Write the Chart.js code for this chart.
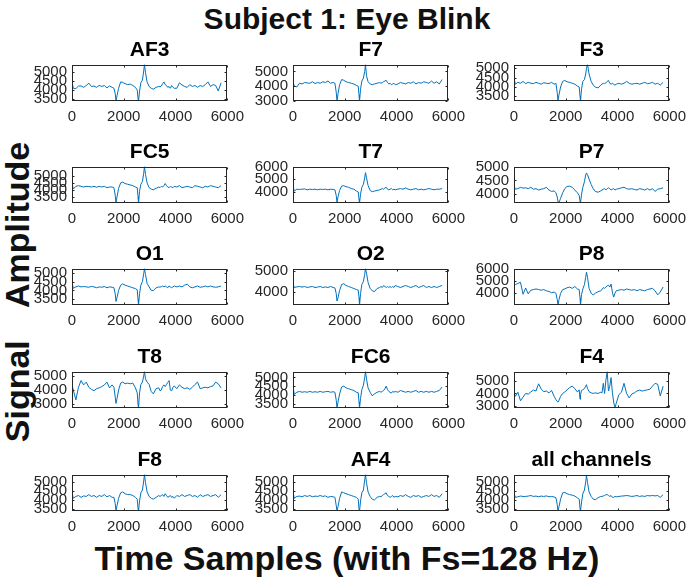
<!DOCTYPE html>
<html>
<head>
<meta charset="utf-8">
<script src="https://cdn.jsdelivr.net/npm/chart.js@4.4.0/dist/chart.umd.min.js"></script>
<style>
	body { margin: 0; background: #fff; }
	#fig { position: relative; width: 694px; height: 585px; overflow: hidden; font-family: "Liberation Sans", Arial, sans-serif; }
	canvas.sub { position: absolute; }
	.lbl { position: absolute; font-weight: bold; white-space: nowrap; color: #111; transform: translate(-50%, -50%); }
	#ttl { left: 347px; top: 19px; font-size: 30px; }
	#xl { left: 347px; top: 558px; font-size: 34px; }
	#yl { left: 17px; top: 292px; font-size: 34px; word-spacing: 24px; transform: translate(-50%, -50%) rotate(-90deg); }
</style>
</head>
<body>
<div id="fig">
	<div class="lbl" id="ttl">Subject 1: Eye Blink</div>
	<div class="lbl" id="xl">Time Samples (with Fs=128 Hz)</div>
	<div class="lbl" id="yl">Signal Amplitude</div>
</div>
<script>
// sample positions (shared by every channel)
const t = [0, 50, 150, 250, 350, 450, 550, 650, 750, 850,
	950, 1050, 1150, 1250, 1350, 1450, 1550, 1620, 1670, 1700,
	1740, 1800, 1880, 1960, 2050, 2150, 2250, 2350, 2450, 2520,
	2550, 2570, 2610, 2660, 2720, 2770, 2800, 2840, 2900, 2980,
	3060, 3140, 3250, 3350, 3400, 3450, 3500, 3550, 3600, 3650,
	3700, 3750, 3800, 3850, 3900, 3950, 4050, 4150, 4250, 4350,
	4450, 4550, 4650, 4750, 4850, 4950, 5050, 5150, 5250, 5350,
	5450, 5550, 5650, 5760];

const channelNames = ['AF3', 'F7', 'F3', 'FC5', 'T7', 'P7', 'O1', 'O2', 'P8', 'T8', 'FC6', 'F4', 'F8', 'AF4', 'all channels'];

const af3 = [4450, 4100, 4080, 4220, 4230, 4150, 4250, 4380, 4200, 4220,
	4150, 4260, 4200, 4250, 4120, 4230, 4150, 4100, 3800, 3400,
	3700, 4100, 4450, 4420, 4350, 4300, 4330, 4250, 4150, 4000,
	3550, 3400, 3950, 4400, 4550, 5050, 5400, 4950, 4450, 4200,
	4100, 4050, 4150, 4200, 4180, 4220, 4350, 4450, 4300, 4250,
	4150, 4200, 4100, 4250, 4150, 4100, 4100, 4400, 4280, 4200,
	4150, 4300, 4200, 4250, 4150, 4250, 4200, 4300, 4450, 4200,
	4300, 4250, 3950, 4400];
const f7 = [4300, 4000, 3950, 4200, 4150, 4250, 4220, 4200, 4300, 4180,
	4250, 4200, 4300, 4250, 4350, 4200, 4250, 4200, 3600, 3000,
	3500, 4100, 4450, 4400, 4300, 4250, 4200, 4150, 4050, 4000,
	3400, 3000, 3800, 4350, 4550, 5000, 5460, 4700, 4300, 4150,
	4100, 4150, 4200, 4250, 4200, 4250, 4300, 4350, 4400, 4250,
	4150, 4200, 4100, 4150, 4200, 4100, 4150, 4250, 4200, 4150,
	4250, 4200, 4300, 4150, 4250, 4200, 4300, 4250, 4200, 4350,
	4200, 4300, 4150, 4450];
const f3 = [4500, 4150, 4250, 4200, 4300, 4180, 4250, 4200, 4180, 4250,
	4200, 4150, 4230, 4200, 4180, 4250, 4150, 4200, 3700, 3250,
	3600, 4000, 4300, 4350, 4280, 4250, 4200, 4150, 4050, 4000,
	3500, 3250, 3900, 4300, 4400, 4700, 5000, 5200, 4700, 4300,
	4100, 4000, 3950, 4100, 4150, 4200, 4180, 4220, 4300, 4350,
	4200, 4150, 4200, 4150, 4100, 4150, 4200, 4150, 4200, 4300,
	4200, 4150, 4180, 4200, 4150, 4200, 4250, 4180, 4200, 4250,
	4150, 4200, 4100, 4250];
const fc5 = [4500, 4050, 4250, 4300, 4250, 4200, 4250, 4230, 4200, 4250,
	4180, 4250, 4200, 4250, 4150, 4200, 4200, 4150, 3600, 3040,
	3500, 4100, 4500, 4550, 4450, 4400, 4350, 4300, 4200, 4150,
	3500, 3040, 3900, 4400, 4600, 5200, 5680, 5100, 4500, 4150,
	4050, 4000, 4100, 4200, 4150, 4250, 4200, 4300, 4450, 4300,
	4200, 4150, 4250, 4200, 4150, 4250, 4200, 4300, 4150, 4200,
	4250, 4200, 4150, 4300, 4250, 4200, 4150, 4250, 4200, 4300,
	4250, 4200, 4150, 4300];
const t7 = [4480, 4050, 4200, 4180, 4200, 4220, 4150, 4200, 4180, 4200,
	4150, 4200, 4180, 4200, 4150, 4200, 4180, 4150, 3700, 3150,
	3600, 4100, 4450, 4480, 4400, 4350, 4250, 4200, 4050, 3980,
	3400, 3100, 3800, 4350, 4600, 5100, 5520, 5100, 4500, 4100,
	4000, 4050, 4100, 4150, 4200, 4250, 4200, 4300, 4350, 4200,
	4150, 4200, 4250, 4150, 4200, 4150, 4200, 4250, 4200, 4300,
	4200, 4150, 4200, 4250, 4150, 4200, 4150, 4200, 4250, 4200,
	4150, 4200, 4200, 4250];
const p7 = [4320, 4180, 4200, 4250, 4220, 4230, 4200, 4250, 4180, 4200,
	4150, 4180, 4200, 4250, 4150, 4100, 4120, 4050, 3900, 3720,
	3700, 3850, 4050, 4200, 4280, 4290, 4250, 4150, 4050, 3950,
	3750, 3680, 4000, 4250, 4450, 4700, 4770, 4700, 4550, 4350,
	4200, 4100, 4070, 4120, 4150, 4180, 4200, 4150, 4200, 4230,
	4200, 4150, 4180, 4200, 4150, 4180, 4200, 4230, 4250, 4200,
	4180, 4200, 4170, 4150, 4200, 4180, 4150, 4200, 4150, 4200,
	4100, 4180, 4200, 4230];
const o1 = [4450, 4120, 4200, 4250, 4200, 4220, 4200, 4180, 4230, 4200,
	4150, 4200, 4180, 4220, 4150, 4200, 4180, 4150, 3800, 3370,
	3600, 4000, 4300, 4370, 4300, 4250, 4200, 4150, 4100, 4035,
	3500, 3170, 3800, 4300, 4500, 4950, 5240, 4900, 4400, 4200,
	4000, 3990, 4150, 4200, 4180, 4220, 4250, 4200, 4250, 4200,
	4150, 4250, 4200, 4150, 4200, 4250, 4200, 4250, 4200, 4300,
	4350, 4200, 4150, 4200, 4250, 4180, 4200, 4250, 4200, 4250,
	4200, 4180, 4200, 4250];
const o2 = [4415, 4200, 4230, 4250, 4220, 4250, 4200, 4230, 4250, 4200,
	4220, 4250, 4200, 4230, 4200, 4250, 4200, 4180, 3900, 3535,
	3700, 4050, 4350, 4385, 4300, 4250, 4200, 4150, 4100, 4075,
	3700, 3340, 3900, 4350, 4500, 4850, 5130, 4900, 4450, 4150,
	4050, 3990, 4150, 4200, 4250, 4200, 4300, 4250, 4200, 4250,
	4200, 4250, 4200, 4250, 4200, 4300, 4250, 4200, 4250, 4300,
	4250, 4200, 4250, 4300, 4200, 4250, 4300, 4200, 4250, 4200,
	4250, 4200, 4250, 4300];
const p8 = [4640, 4700, 4800, 4890, 3920, 4430, 3950, 4250, 4300, 4350,
	4300, 4250, 4300, 4200, 4150, 4050, 4100, 4000, 3500, 3050,
	3500, 4000, 4300, 4350, 4450, 4500, 4400, 4550, 4350, 4300,
	3600, 3050, 3900, 4350, 4700, 5300, 5715, 5300, 4400, 4000,
	3870, 4000, 4130, 4200, 4300, 4460, 4400, 4500, 4600, 4660,
	4500, 4750, 4100, 3690, 4000, 4200, 4250, 4300, 4250, 4350,
	4300, 4250, 4300, 4200, 4300, 4250, 4200, 4300, 4350, 4400,
	4200, 3870, 4100, 4510];
const t8 = [4370, 4000, 3300, 4200, 4680, 4370, 4570, 4200, 4050, 3955,
	4100, 4160, 4250, 4370, 4570, 4150, 4370, 4200, 3500, 3045,
	3400, 4000, 4500, 4570, 4450, 4500, 4450, 4500, 4160, 3800,
	3000, 2720, 3800, 4400, 4570, 5000, 5320, 4800, 4570, 4400,
	3900, 3730, 4100, 4160, 3950, 4000, 4250, 4370, 4250, 4400,
	4550, 4680, 4000, 3950, 4200, 4300, 4100, 4370, 4200, 4100,
	4160, 4050, 4200, 4400, 4570, 4100, 4160, 4200, 4160, 4250,
	4300, 4570, 4450, 4150];
const fc6 = [4470, 4030, 4150, 4200, 4150, 4180, 4150, 4200, 4150, 4180,
	4150, 4200, 4150, 4180, 4200, 4150, 4180, 4150, 3700, 3250,
	3600, 4050, 4450, 4500, 4400, 4350, 4300, 4250, 4150, 4120,
	3600, 3250, 3800, 4300, 4550, 5000, 5330, 4900, 4400, 4150,
	3950, 4050, 4150, 4200, 4150, 4200, 4250, 4350, 4500, 4300,
	4200, 4150, 4100, 4200, 4150, 4200, 4150, 4250, 4200, 4150,
	4200, 4150, 4200, 4250, 4150, 4200, 4150, 4200, 4150, 4200,
	4150, 4200, 4250, 4450];
const f4 = [4150, 3765, 4100, 3400, 3700, 4000, 3950, 4120, 4280, 4200,
	4790, 4360, 4150, 4200, 4050, 4250, 3765, 3500, 3350, 3290,
	3450, 3765, 4000, 4120, 4300, 4480, 4600, 4400, 4120, 4300,
	3523, 3900, 4250, 4300, 4400, 4600, 4715, 4400, 4150, 4050,
	4000, 4050, 4000, 4100, 4050, 4830, 4000, 5100, 5790, 4200,
	4600, 5300, 4100, 3300, 2810, 3200, 3900, 4100, 4830, 4000,
	3640, 3950, 4050, 4200, 4280, 4200, 4250, 4300, 4350, 4600,
	4830, 4750, 3800, 4600];
const f8 = [4400, 4100, 4200, 4250, 4150, 4230, 4200, 4300, 4200, 4250,
	4150, 4250, 4200, 4300, 4180, 4250, 4150, 4150, 3800, 3400,
	3700, 4100, 4400, 4450, 4350, 4300, 4300, 4250, 4150, 4050,
	3550, 3400, 3950, 4400, 4550, 5050, 5400, 4950, 4450, 4200,
	4100, 4050, 4150, 4250, 4200, 4250, 4300, 4200, 4350, 4250,
	4150, 4200, 4250, 4150, 4200, 4100, 4250, 4200, 4300, 4200,
	4250, 4300, 4200, 4250, 4150, 4300, 4200, 4250, 4300, 4200,
	4250, 4300, 4150, 4300];
const af4 = [4450, 4100, 4200, 4220, 4180, 4250, 4200, 4250, 4180, 4220,
	4200, 4250, 4200, 4230, 4150, 4200, 4180, 4150, 3700, 3400,
	3650, 4100, 4450, 4400, 4350, 4300, 4250, 4200, 4150, 4050,
	3500, 3400, 3950, 4400, 4550, 5100, 5400, 4950, 4450, 4200,
	4050, 4000, 4150, 4200, 4180, 4250, 4300, 4350, 4400, 4250,
	4200, 4150, 4200, 4250, 4150, 4200, 4180, 4250, 4200, 4300,
	4200, 4150, 4250, 4200, 4250, 4150, 4200, 4250, 4200, 4300,
	4200, 4250, 4150, 4350];
const allCh = [4400, 4150, 4180, 4220, 4200, 4200, 4220, 4250, 4200, 4220,
	4180, 4220, 4200, 4230, 4180, 4200, 4170, 4130, 3750, 3400,
	3650, 4050, 4400, 4420, 4350, 4300, 4270, 4220, 4120, 4050,
	3550, 3400, 3900, 4350, 4550, 5000, 5350, 4950, 4450, 4200,
	4050, 4020, 4130, 4200, 4200, 4230, 4250, 4300, 4300, 4250,
	4200, 4250, 4150, 4150, 4200, 4180, 4200, 4220, 4230, 4250,
	4230, 4200, 4220, 4250, 4200, 4230, 4200, 4250, 4230, 4250,
	4230, 4250, 4150, 4300];

const series = [af3, f7, f3, fc5, t7, p7, o1, o2, p8, t8, fc6, f4, f8, af4, allCh];
const yMin = [3400, 3000, 3250, 3040, 3100, 3680, 3170, 3340, 3050, 2720, 3250, 2810, 3400, 3400, 3400];
const yMax = [5400, 5460, 5200, 5680, 6000, 5000, 5240, 5130, 6000, 5320, 5330, 5790, 5400, 5400, 5400];
const yTicks = [
	[3500, 4000, 4500, 5000], [3000, 4000, 5000], [3500, 4000, 4500, 5000],
	[3500, 4000, 4500, 5000], [4000, 5000, 6000], [4000, 4500, 5000],
	[3500, 4000, 4500, 5000], [4000, 5000], [4000, 5000, 6000],
	[3000, 4000, 5000], [3500, 4000, 4500, 5000], [3000, 4000, 5000],
	[3500, 4000, 4500, 5000], [3500, 4000, 4500, 5000], [3500, 4000, 4500, 5000]
];
const xTicks = [0, 2000, 4000, 6000];

// subplot grid (box positions in px)
const colLeft = [72, 293, 514];
const rowTop = [61, 163, 265, 368, 471];
const boxW = 159, boxH = 40;
const padL = 70, padR = 20, padT = 23, padB = 26;
const FONT = '"Liberation Sans", Arial, sans-serif';
const AXC = '#262626';

// matlab style box with inward ticks
const boxPlugin = {
	id: 'matBox',
	afterDraw(chart) {
		const ctx = chart.ctx;
		const a = chart.chartArea;
		const xs = chart.scales.x, ys = chart.scales.y;
		const L = Math.round(a.left) + 0.5, R = Math.round(a.right) - 0.5;
		const T = Math.round(a.top) + 0.5, B = Math.round(a.bottom) - 0.5;
		ctx.save();
		ctx.strokeStyle = AXC;
		ctx.lineWidth = 1;
		ctx.strokeRect(L, T, R - L, B - T);
		ctx.beginPath();
		xs.ticks.forEach(tk => {
			const px = Math.round(xs.getPixelForValue(tk.value)) + 0.5;
			ctx.moveTo(px, B); ctx.lineTo(px, B - 2);
			ctx.moveTo(px, T); ctx.lineTo(px, T + 2);
		});
		ys.ticks.forEach(tk => {
			const py = Math.round(ys.getPixelForValue(tk.value)) + 0.5;
			ctx.moveTo(L, py); ctx.lineTo(L + 2, py);
			ctx.moveTo(R, py); ctx.lineTo(R - 2, py);
		});
		ctx.stroke();
		ctx.restore();
	}
};

const fig = document.getElementById('fig');

channelNames.forEach((name, i) => {
	const col = i % 3, row = Math.floor(i / 3);
	const cv = document.createElement('canvas');
	cv.className = 'sub';
	cv.width = padL + boxW + padR;
	cv.height = padT + boxH + padB;
	cv.style.left = (colLeft[col] - padL) + 'px';
	cv.style.top = (rowTop[row] - padT) + 'px';
	fig.appendChild(cv);

	const vals = series[i];
	const ticksY = yTicks[i];

	new Chart(cv.getContext('2d'), {
		type: 'line',
		data: {
			datasets: [{
				data: t.map((x, k) => ({ x: x, y: vals[k] })),
				borderColor: '#0072BD',
				borderWidth: 1,
				pointRadius: 0,
				tension: 0,
				fill: false
			}]
		},
		options: {
			responsive: false,
			animation: false,
			devicePixelRatio: 1,
			layout: { padding: { left: 0, right: padR, top: 0, bottom: 0 } },
			plugins: {
				legend: { display: false },
				tooltip: { enabled: false },
				title: {
					display: true,
					text: name,
					fullSize: false,
					color: '#000',
					font: { family: FONT, size: 21, weight: 'bold' },
					padding: { top: 0, bottom: 1.4 }
				}
			},
			scales: {
				x: {
					type: 'linear',
					min: 0,
					max: 6000,
					grid: { display: false, drawTicks: false },
					border: { display: false },
					afterBuildTicks: s => { s.ticks = xTicks.map(v => ({ value: v })); },
					afterFit: s => { s.height = padB; },
					ticks: { autoSkip: false, maxRotation: 0, padding: 7, color: AXC, font: { family: FONT, size: 15 }, callback: v => String(v) }
				},
				y: {
					min: yMin[i],
					max: yMax[i],
					grid: { display: false, drawTicks: false },
					border: { display: false },
					afterBuildTicks: s => { s.ticks = ticksY.map(v => ({ value: v })); },
					afterFit: s => { s.width = padL; },
					ticks: { autoSkip: false, padding: 5, color: AXC, font: { family: FONT, size: 15 }, callback: v => String(v) }
				}
			}
		},
		plugins: [boxPlugin]
	});
});
</script>
</body>
</html>
